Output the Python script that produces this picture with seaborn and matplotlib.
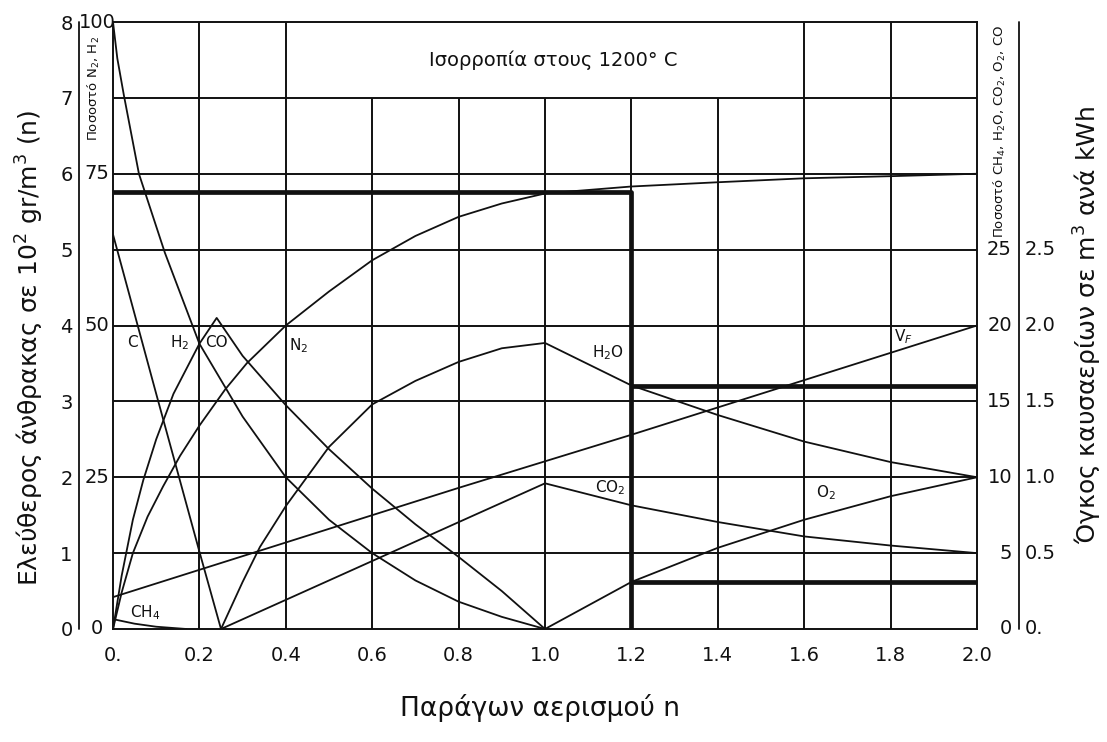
import matplotlib
matplotlib.use("Agg")
import matplotlib.pyplot as plt
import matplotlib.transforms as mtransforms
from matplotlib.lines import Line2D
import pandas as pd
import seaborn as sns

# ---- axes scales -------------------------------------------------------
# aeration factor n
x_ticks = [0.0, 0.2, 0.4, 0.6, 0.8, 1.0, 1.2, 1.4, 1.6, 1.8, 2.0]
x_tick_labels = ["0.", "0.2", "0.4", "0.6", "0.8", "1.0", "1.2", "1.4", "1.6", "1.8", "2.0"]
# free carbon, 10^2 gr/m^3 (base scale of the plot)
carbon_ticks = [0, 1, 2, 3, 4, 5, 6, 7, 8]
# N2 / H2 percentage
pct_left_ticks = [0, 25, 50, 75, 100]
# CH4 / H2O / CO2 / O2 / CO percentage
pct_right_ticks = [0, 5, 10, 15, 20, 25]
# flue gas volume, m^3 per kWh
kwh_ticks = [0.0, 0.5, 1.0, 1.5, 2.0, 2.5]
kwh_tick_labels = ["0.", "0.5", "1.0", "1.5", "2.0", "2.5"]

# ---- equilibrium curves at 1200 C --------------------------------------
n_c = [0.0, 0.1, 0.2, 0.25]
carbon = [5.2, 3.1, 1.02, 0.0]

n_h2 = [0.0, 0.01, 0.025, 0.06, 0.12, 0.2, 0.3, 0.4, 0.5, 0.6, 0.7, 0.8, 0.9, 1.0]
h2_pct = [100, 94, 88, 75, 62, 47, 35, 25, 18, 12.5, 8, 4.5, 2, 0]

n_n2 = [0.0, 0.02, 0.046, 0.08, 0.116, 0.155, 0.2, 0.26, 0.31, 0.4, 0.5, 0.6,
        0.7, 0.8, 0.9, 1.0, 1.2, 1.4, 1.6, 1.8, 2.0]
n2_pct = [0, 6, 12.5, 18.5, 23.5, 28.5, 33.5, 39.5, 43.8, 50, 55.6, 60.75,
          64.75, 67.9, 70.1, 71.75, 72.9, 73.6, 74.25, 74.6, 75]

n_co = [0.0, 0.02, 0.046, 0.07, 0.1, 0.14, 0.2, 0.24, 0.3, 0.4, 0.5, 0.6,
        0.7, 0.8, 0.9, 1.0]
co_pct = [0, 3.5, 7.2, 9.8, 12.5, 15.5, 18.8, 20.5, 18, 14.75, 11.85, 9.25,
          6.9, 4.75, 2.5, 0]

n_ch4 = [0.0, 0.05, 0.1, 0.17]
ch4_pct = [0.65, 0.35, 0.15, 0.0]

n_h2o = [0.25, 0.3, 0.34, 0.4, 0.5, 0.6, 0.7, 0.8, 0.9, 1.0, 1.2, 1.4, 1.6, 1.8, 2.0]
h2o_pct = [0, 3.1, 5.4, 8.1, 12, 14.8, 16.35, 17.6, 18.5, 18.85, 16.05, 14.1,
           12.35, 11.0, 10.0]

n_co2 = [0.25, 0.5, 0.75, 1.0, 1.2, 1.4, 1.6, 1.8, 2.0]
co2_pct = [0, 3.2, 6.4, 9.6, 8.15, 7.05, 6.1, 5.5, 5.0]

n_o2 = [1.0, 1.2, 1.4, 1.6, 1.8, 2.0]
o2_pct = [0, 3.1, 5.35, 7.2, 8.75, 10.0]

n_vf = [0.0, 0.4, 0.8, 1.2, 1.6, 2.0]
vf_kwh = [0.21, 0.57, 0.93, 1.28, 1.64, 2.0]

# operating point n = 1.2
n_op = 1.2
op_n2_pct = 72.0
op_h2o_pct = 16.0
op_o2_pct = 3.1

# ---- conversion of each scale onto the carbon scale ---------------------
def from_left_pct(v):
    return [p * 8.0 / 100.0 for p in v]

def from_right_pct(v):
    return [p / 5.0 for p in v]

def from_kwh(v):
    return [k * 2.0 for k in v]

curves = [
    ("C", n_c, list(carbon)),
    ("H2", n_h2, from_left_pct(h2_pct)),
    ("N2", n_n2, from_left_pct(n2_pct)),
    ("CO", n_co, from_right_pct(co_pct)),
    ("CH4", n_ch4, from_right_pct(ch4_pct)),
    ("H2O", n_h2o, from_right_pct(h2o_pct)),
    ("CO2", n_co2, from_right_pct(co2_pct)),
    ("O2", n_o2, from_right_pct(o2_pct)),
    ("VF", n_vf, from_kwh(vf_kwh)),
]
frames = []
for name, xs, ys in curves:
    frames.append(pd.DataFrame({"n": xs, "y": ys, "series": name}))
df = pd.concat(frames, ignore_index=True)

# ---- figure ---------------------------------------------------------------
sns.set_theme(style="white")
plt.rcParams["font.family"] = ["DejaVu Sans"]
plt.rcParams["mathtext.fontset"] = "dejavusans"

W, H = 1107, 742
fig = plt.figure(figsize=(W / 100, H / 100), dpi=100)
fig.patch.set_facecolor("white")
ax = fig.add_axes([113 / W, 1 - 629 / H, (977 - 113) / W, (629 - 22) / H])
ax.set_xlim(0, 2.0)
ax.set_ylim(0, 8)
ax.set_facecolor("white")

ink = "#111111"
grid_lw = 1.4

# grid: horizontal lines every unit, vertical every 0.2 (middle ones stop
# below the title band)
ax.hlines(carbon_ticks[1:-1], 0, 2.0, color=ink, lw=grid_lw, zorder=1)
for xv in x_ticks[1:-1]:
    top = 7 if 0.5 < xv < 1.5 else 8
    ax.vlines(xv, 0, top, color=ink, lw=grid_lw, zorder=1)
for s in ax.spines.values():
    s.set_color(ink)
    s.set_linewidth(grid_lw)

# curves
for name, g in df.groupby("series", sort=False):
    sns.lineplot(data=g, x="n", y="y", ax=ax, color=ink, lw=1.3,
                 estimator=None, sort=False, legend=False, zorder=3)

# operating-point reference lines
y_n2 = from_left_pct([op_n2_pct])[0]
y_h2o = from_right_pct([op_h2o_pct])[0]
y_o2 = from_right_pct([op_o2_pct])[0]
thick = dict(color=ink, lw=3.4, zorder=4, solid_capstyle="butt")
ax.plot([0, n_op, n_op], [y_n2, y_n2, 0], **thick)
ax.plot([n_op, 2.0], [y_h2o, y_h2o], **thick)
ax.plot([n_op, 2.0], [y_o2, y_o2], **thick)

# ticks
ax.set_xticks(x_ticks)
ax.set_xticklabels(x_tick_labels)
ax.set_yticks(carbon_ticks)
ax.set_yticklabels([str(v) for v in carbon_ticks])
ax.tick_params(axis="x", length=0, pad=12, labelsize=14, colors=ink)
ax.tick_params(axis="y", length=0, pad=29, labelsize=14, colors=ink)
ax.set_xlabel("")
ax.set_ylabel("")

# extra scales written beside the axis
fig_y = mtransforms.blended_transform_factory(fig.transFigure, ax.transData)
for v in pct_left_ticks:
    ax.text(97 / W, v * 8.0 / 100.0, str(v), transform=fig_y, ha="center",
            va="center", fontsize=14, color=ink)
for v in pct_right_ticks:
    ax.text(1012 / W, v / 5.0, str(v), transform=fig_y, ha="right",
            va="center", fontsize=14, color=ink)
for v, lab in zip(kwh_ticks, kwh_tick_labels):
    ax.text(1025 / W, v * 2.0, lab, transform=fig_y, ha="left",
            va="center", fontsize=14, color=ink)
for xs in (79 / W, 1019 / W):
    fig.add_artist(Line2D([xs, xs], [0, 8], transform=fig_y, color=ink, lw=1.3))

# scale captions
fig.text(94 / W, 1 - 89 / H, "Ποσοστό N$_2$, H$_2$", rotation=90,
         ha="center", va="center", fontsize=9.5, color=ink)
fig.text(1000 / W, 1 - 131 / H, "Ποσοστό CH$_4$, H$_2$O, CO$_2$, O$_2$, CO",
         rotation=90, ha="center", va="center", fontsize=9.5, color=ink)
fig.text(30 / W, 1 - 348 / H, "Ελεύθερος άνθρακας σε 10$^2$ gr/m$^3$ (n)",
         rotation=90, ha="center", va="center", fontsize=18, color=ink)
fig.text(1088 / W, 1 - 325 / H, "Όγκος καυσαερίων σε m$^3$ ανά kWh",
         rotation=90, ha="center", va="center", fontsize=18, color=ink)
fig.text(540 / W, 1 - 708 / H, "Παράγων αερισμού n",
         ha="center", va="center", fontsize=19, color=ink)

# title inside the top band
ax.text(1.02, 7.5, "Ισορροπία στους 1200° C", ha="center", va="center",
        fontsize=14, color=ink)

# curve names
curve_labels = [
    ("C", 0.046, 3.77),
    ("H$_2$", 0.155, 3.77),
    ("CO", 0.24, 3.77),
    ("N$_2$", 0.43, 3.74),
    ("H$_2$O", 1.146, 3.64),
    ("CO$_2$", 1.15, 1.86),
    ("O$_2$", 1.65, 1.8),
    ("V$_F$", 1.83, 3.85),
    ("CH$_4$", 0.075, 0.22),
]
for txt, xv, yv in curve_labels:
    ax.text(xv, yv, txt, ha="center", va="center", fontsize=11, color=ink,
            zorder=5)

fig.savefig("out.png", dpi=100, facecolor="white")
